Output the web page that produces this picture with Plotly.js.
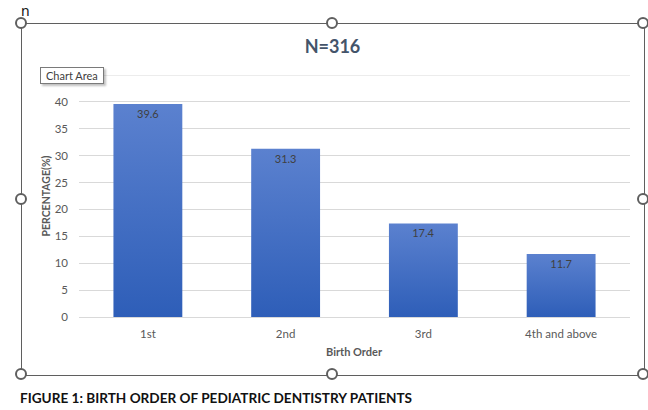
<!DOCTYPE html>
<html><head><meta charset="utf-8">
<script src="https://cdn.plot.ly/plotly-3.0.1.min.js"></script>
<style>
html,body{margin:0;padding:0;background:#fff;}
#wrap{position:relative;width:648px;height:410px;overflow:hidden;font-family:"Lato","Noto Sans",sans-serif;}
#chart{position:absolute;left:0;top:0;width:648px;height:410px;}
.frame{position:absolute;left:21px;top:23px;width:622px;height:351px;border:1px solid #5f5f5f;pointer-events:none;}
.h{position:absolute;width:8px;height:8px;border:2px solid #5f5f5f;border-radius:50%;background:#fff;}
#tip{position:absolute;left:40px;top:67px;padding:1px 5px;border:1px solid #7a7a7a;background:#fff;font-size:11px;color:#404040;box-shadow:2px 2px 2px rgba(0,0,0,0.25);font-family:"Lato",sans-serif;}
#cap{position:absolute;left:20px;top:390px;font-size:13.6px;font-weight:bold;color:#111;font-family:"Lato","Noto Sans",sans-serif;}
#n{position:absolute;left:21px;top:1px;font-size:14px;color:#111;font-family:"Noto Sans",sans-serif;}
</style></head>
<body>
<div id="wrap">
<div id="chart"></div>
<div class="frame"></div>
<div id="handles"></div>
<div id="tip">Chart Area</div>
<div id="n">n</div>
<div id="cap">FIGURE 1: BIRTH ORDER OF PEDIATRIC DENTISTRY PATIENTS</div>
</div>
<script>
const categories = ["1st", "2nd", "3rd", "4th and above"];
const percentages = [39.6, 31.3, 17.4, 11.7];
const labels = ["39.6", "31.3", "17.4", "11.7"];
const chartTitle = "N=316";
const yTitle = "PERCENTAGE(%)";
const xTitle = "Birth Order";

// selection handles of the chart frame
const hpos = [[21,23],[332,23],[643,23],[21,199],[643,199],[21,374],[332,374],[643,374]];
const hd = document.getElementById('handles');
hpos.forEach(p=>{const d=document.createElement('div');d.className='h';d.style.left=(p[0]-6)+'px';d.style.top=(p[1]-6)+'px';hd.appendChild(d);});

const trace = {
  type: 'bar', x: categories, y: percentages, text: labels,
  textposition: 'inside', insidetextanchor: 'end', textangle: 0,
  textfont: {color: '#404040', size: 11, family: 'Lato, sans-serif'},
  marker: {color: '#4471c6', line: {width: 0}},
  hoverinfo: 'none', cliponaxis: false
};
const layout = {
  width: 648, height: 410,
  margin: {l: 78.5, r: 18, t: 75, b: 93},
  paper_bgcolor: 'rgba(0,0,0,0)', plot_bgcolor: 'rgba(0,0,0,0)',
  bargap: 0.5, showlegend: false,
  font: {family: 'Lato, sans-serif', color: '#595959', size: 11},
  title: {text: '<b>' + chartTitle + '</b>', x: 332.5/648, xanchor: 'center', y: 1 - 47/410, yanchor: 'middle',
          font: {size: 18, color: '#44546a', family: 'Lato, sans-serif'}},
  xaxis: {type: 'category', showgrid: false, zeroline: false, showline: true, linecolor: '#d9d9d9', linewidth: 1,
          ticks: '', tickfont: {size: 11.5, color: '#595959'}, ticklabelstandoff: 6},
  yaxis: {range: [0, 45], showgrid: true, gridcolor: '#d9d9d9', gridwidth: 1,
          zeroline: false, showline: false, ticks: '', tickvals: [0,5,10,15,20,25,30,35,40],
          tickfont: {size: 11.5, color: '#595959'}, ticklabelstandoff: 10},
  shapes: [{type: 'line', xref: 'paper', yref: 'y', x0: 0, x1: 1, y0: 45, y1: 45, line: {color: '#d9d9d9', width: 1}}],
  annotations: [
    {text: '<b>' + yTitle + '</b>', xref: 'paper', yref: 'paper', x: (45-78.5)/551.5, y: (317-196)/242,
     xanchor: 'center', yanchor: 'middle', textangle: -90, showarrow: false, font: {size: 10.5, color: '#595959'}},
    {text: '<b>' + xTitle + '</b>', xref: 'paper', yref: 'paper', x: 0.5, y: (317-351)/242,
     xanchor: 'center', yanchor: 'middle', showarrow: false, font: {size: 11, color: '#595959'}}
  ]
};
Plotly.newPlot('chart', [trace], layout, {staticPlot: true, displayModeBar: false}).then(gd => {
  const svg = gd.querySelector('svg.main-svg');
  const ns = 'http://www.w3.org/2000/svg';
  let defs = svg.querySelector('defs');
  if (!defs) { defs = document.createElementNS(ns, 'defs'); svg.insertBefore(defs, svg.firstChild); }
  const g = document.createElementNS(ns, 'linearGradient');
  g.setAttribute('id', 'barGrad'); g.setAttribute('x1', '0'); g.setAttribute('y1', '0'); g.setAttribute('x2', '0'); g.setAttribute('y2', '1');
  [['0%', '#5b81cf'], ['100%', '#2e5eb8']].forEach(s => {
    const st = document.createElementNS(ns, 'stop'); st.setAttribute('offset', s[0]); st.setAttribute('stop-color', s[1]); g.appendChild(st);
  });
  defs.appendChild(g);
  gd.querySelectorAll('.bars .point path').forEach(p => { p.style.fill = 'url(#barGrad)'; });
});
</script>
</body></html>
